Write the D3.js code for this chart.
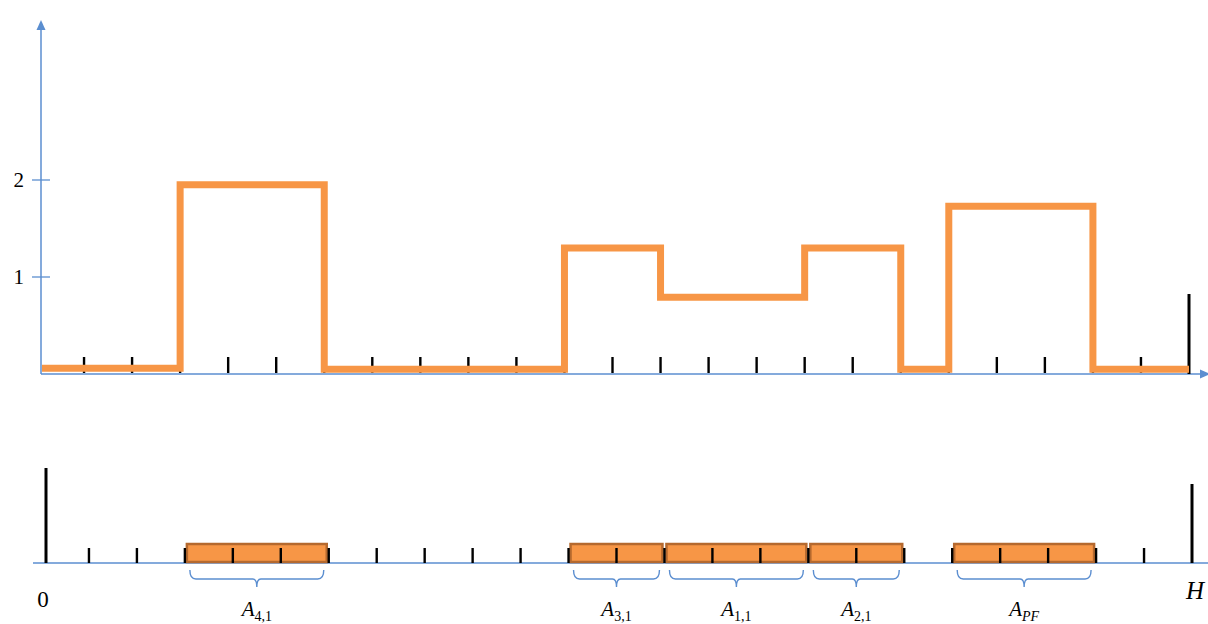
<!DOCTYPE html>
<html><head><meta charset="utf-8">
<script src="https://cdn.jsdelivr.net/npm/d3@7"></script>
<style>html,body{margin:0;padding:0;background:#fff;}svg{display:block;}</style>
</head><body>
<svg id="c" width="1208" height="624"></svg>
<script>
// ---- data ----
const H = 24;
const stepStarts = [0, 3, 6, 11, 13, 16, 18, 19, 22];
const stepEnds   = [3, 6, 11, 13, 16, 18, 19, 22, 24];
const stepValues = [0.06, 1.95, 0.05, 1.3, 0.79, 1.3, 0.05, 1.73, 0.05];
const yTickValues = [1, 2];
const yTickLabels = ["1", "2"];
const unitTicks = [1,2,3,4,5,6,7,8,9,10,11,12,13,14,15,16,17,18,19,20,21,22,23];
const barNames  = ["4,1", "3,1", "1,1", "2,1", "PF"];
const barStarts = [3, 11, 13, 16, 19];
const barEnds   = [6, 13, 16, 18, 22];

// ---- drawing ----
const svg = d3.select("#c");
const blue = "#5B8ED0", orange = "#F79646", barStroke = "#B5692E";
const serif = "Liberation Serif, Times New Roman, serif";
const xTop = d3.scaleLinear().domain([0, H]).range([36, 1189]);
const xBot = d3.scaleLinear().domain([0, H]).range([41, 1192]);
const y = d3.scaleLinear().domain([0, 2]).range([374, 180]);
const axisX = 41, baseTop = y(0), baseBot = 563;

// top axes
svg.append("line").attr("x1", axisX).attr("x2", axisX).attr("y1", baseTop).attr("y2", 28)
  .attr("stroke", blue).attr("stroke-width", 1.5);
svg.append("path").attr("d", `M${axisX-4.5},30 L${axisX},20 L${axisX+4.5},30 Z`).attr("fill", blue);
svg.append("line").attr("x1", axisX).attr("x2", 1202).attr("y1", baseTop).attr("y2", baseTop)
  .attr("stroke", blue).attr("stroke-width", 1.5);
svg.append("path").attr("d", `M1200,${baseTop-4.5} L1210,${baseTop} L1200,${baseTop+4.5} Z`).attr("fill", blue);

// y ticks
svg.selectAll(".yt").data(yTickValues).join("line")
  .attr("x1", axisX - 9).attr("x2", axisX + 9)
  .attr("y1", d => y(d)).attr("y2", d => y(d))
  .attr("stroke", blue).attr("stroke-width", 1.3);
svg.selectAll(".yl").data(yTickValues).join("text")
  .attr("x", 24).attr("y", d => y(d)).attr("dy", "0.35em")
  .attr("text-anchor", "end")
  .attr("font-family", serif).attr("font-size", 21)
  .text((d, i) => yTickLabels[i]);

// top unit ticks
svg.selectAll(".tt").data(unitTicks).join("line")
  .attr("x1", d => xTop(d)).attr("x2", d => xTop(d))
  .attr("y1", baseTop - 17).attr("y2", baseTop - 1)
  .attr("stroke", "#000").attr("stroke-width", 2.4);
svg.append("line").attr("x1", xTop(H)).attr("x2", xTop(H)).attr("y1", 294).attr("y2", baseTop)
  .attr("stroke", "#000").attr("stroke-width", 3);

// step line
const pts = [];
stepStarts.forEach((s, i) => {
  pts.push([Math.max(xTop(s), axisX + 1), y(stepValues[i])]);
  pts.push([xTop(stepEnds[i]), y(stepValues[i])]);
});
svg.append("path").attr("d", d3.line()(pts))
  .attr("fill", "none").attr("stroke", orange).attr("stroke-width", 7)
  .attr("stroke-linejoin", "miter");

// bottom axis
svg.append("line").attr("x1", 33).attr("x2", 1208).attr("y1", baseBot).attr("y2", baseBot)
  .attr("stroke", blue).attr("stroke-width", 1.5);

// bars
const bh = 19;
svg.selectAll(".bar").data(barNames).join("rect")
  .attr("x", (d, i) => xBot(barStarts[i]) + 2)
  .attr("width", (d, i) => xBot(barEnds[i]) - xBot(barStarts[i]) - 4)
  .attr("y", baseBot - bh).attr("height", bh - 1)
  .attr("fill", orange).attr("stroke", barStroke).attr("stroke-width", 2.5);

// bottom ticks
svg.selectAll(".bt").data(unitTicks).join("line")
  .attr("x1", d => xBot(d)).attr("x2", d => xBot(d))
  .attr("y1", baseBot - 15).attr("y2", baseBot)
  .attr("stroke", "#000").attr("stroke-width", 2.4);
svg.append("line").attr("x1", xBot(0) + 5).attr("x2", xBot(0) + 5).attr("y1", 468).attr("y2", baseBot)
  .attr("stroke", "#000").attr("stroke-width", 3);
svg.append("line").attr("x1", xBot(H)).attr("x2", xBot(H)).attr("y1", 484).attr("y2", baseBot)
  .attr("stroke", "#000").attr("stroke-width", 3);

// braces
function brace(x1, x2, top) {
  const m = (x1 + x2) / 2, r = 6, h = top + 9;
  return `M${x1},${top} Q${x1},${h} ${x1+r},${h} L${m-4},${h} Q${m},${h} ${m},${h+8} Q${m},${h} ${m+4},${h} L${x2-r},${h} Q${x2},${h} ${x2},${top}`;
}
svg.selectAll(".br").data(barNames).join("path")
  .attr("d", (d, i) => brace(xBot(barStarts[i]) + 5, xBot(barEnds[i]) - 5, 570))
  .attr("fill", "none").attr("stroke", blue).attr("stroke-width", 1.4);

// labels
const lab = svg.selectAll(".lab").data(barNames).join("text")
  .attr("x", (d, i) => (xBot(barStarts[i]) + xBot(barEnds[i])) / 2)
  .attr("y", 616).attr("text-anchor", "middle")
  .attr("font-family", serif);
lab.append("tspan").attr("font-style", "italic").attr("font-size", 21).text("A");
lab.append("tspan").attr("font-size", 14).attr("dy", 5)
  .attr("font-style", d => /[A-Za-z]/.test(d) ? "italic" : "normal").text(d => d);

svg.append("text").attr("x", 43).attr("y", 607).attr("text-anchor", "middle")
  .attr("font-family", serif).attr("font-size", 23).text("0");
svg.append("text").attr("x", 1195).attr("y", 599).attr("text-anchor", "middle")
  .attr("font-family", serif).attr("font-style", "italic")
  .attr("font-size", 25).text("H");
</script>
</body></html>
